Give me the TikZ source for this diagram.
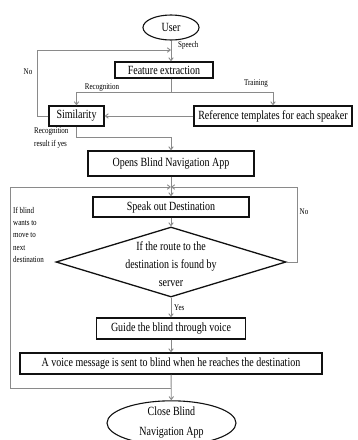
\documentclass[tikz,border=0pt]{standalone}
\usepackage{fontspec}
\setmainfont[FakeStretch=0.8]{Liberation Serif}
\usetikzlibrary{arrows.meta, calc, positioning, shapes.geometric}
\definecolor{lineGrey}{HTML}{8A8A8A}
\definecolor{inkBlack}{HTML}{111111}

\begin{document}
\begin{tikzpicture}[
  font=\fontsize{12.5}{14}\selectfont,
  proc/.style={
    rectangle, draw=inkBlack, line width=1.3pt, fill=white,
    minimum width=#1, minimum height=20pt, inner sep=0pt, align=center,
  },
  term/.style={
    ellipse, draw=inkBlack, line width=1.1pt, fill=white,
    minimum width=#1, inner sep=0pt, align=center,
  },
  decision/.style={
    diamond, draw=inkBlack, line width=1.3pt,
    minimum width=230pt, minimum height=70pt, inner sep=0pt,
  },
  flow/.style={-{Straight Barb[length=3pt, width=4.5pt]}, draw=lineGrey, line width=0.9pt},
  lbl/.style={font=\fontsize{8.75}{#1}\selectfont, inner sep=0pt, align=left},
  x=1pt, y=-1pt,
]
\useasboundingbox (0,0) rectangle (357,440);

% speaker recognition
\node[term=56pt, minimum height=25pt] at (171,27.5) (user) {User};
\node[proc=98pt, minimum height=16pt] at (164,70)   (feat) {Feature extraction};
\node[proc=55pt]  at (76.5,116) (simi) {Similarity};
\node[proc=158pt] at (273,116)  (refr) {Reference templates for each speaker};

\coordinate (merge1) at (171,50);
\coordinate (fork)   at (171,92);
\coordinate (turn)   at (171,137);

% navigation
\node[proc=166pt, minimum height=25pt] at (171,163.5) (opens) {Opens Blind Navigation App};
\node[proc=156pt] at (171,207) (speak) {Speak out Destination};
\node[decision]   at (171,262) (route) {};
\node[align=center, font=\fontsize{12.5}{18}\selectfont] at (171,264) (routetext)
  {If the route to the\\destination is found by\\server};
\node[proc=149pt, minimum height=21pt] at (171,328.5) (guide) {Guide the blind through voice};
\node[proc=302pt, minimum height=21pt] at (171,363.5) (voice)
  {A voice message is sent to blind when he reaches the destination};
\node[term=129pt, minimum height=40pt, font=\fontsize{12.5}{20}\selectfont] at (171.5,423) (close)
  {Close Blind\\Navigation App};

\coordinate (merge2) at (171,187);
\coordinate (back)   at (171,388);

\draw[flow] (user.south) -- (user.south |- feat.north);
\draw[draw=lineGrey, line width=0.9pt] (feat.south -| fork) -- (fork);
\draw[flow] (fork) -| (simi.north);
\draw[flow] (fork) -| (refr.north);
\draw[flow] (refr) -- (simi);
\draw[flow] (simi.west) -- ++(-11,0) |- (merge1);
\draw[flow] (simi.south) |- (turn) -- (opens);

\draw[flow] (opens) -- (speak);
\draw[flow] (speak) -- (route);
\draw[flow] (route) -- (guide);
\draw[flow] (guide) -- (voice);
\draw[flow] (voice) -- (close);
\draw[flow] (route.east) -- (297,262) |- (merge2);
\draw[flow] (back) -- (10,388) |- (merge2);

\node[lbl=8, anchor=west] at (178,45) (speech) {Speech};
\node[lbl=8] at (28,72)  (nolbl1) {No};
\node[lbl=8] at (102,88) (recog)  {Recognition};
\node[lbl=8] at (256,84) (train)  {Training};
\node[lbl=13, anchor=north west] at (34,128) (result) {Recognition\\result if yes};
\node[lbl=12.3, anchor=north west] at (13,207) (ifblind) {If blind\\wants to\\move to\\next\\destination};
\node[lbl=8] at (304,212) (nolbl2) {No};
\node[lbl=8, anchor=west] at (174,308) (yes) {Yes};

\end{tikzpicture}
\end{document}
